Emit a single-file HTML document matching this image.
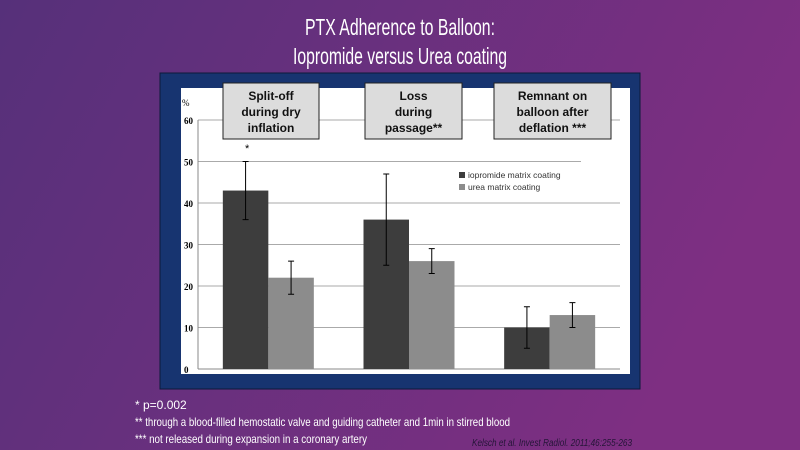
<!DOCTYPE html>
<html><head><meta charset="utf-8"><style>
body{margin:0;width:800px;height:450px;overflow:hidden}
svg{display:block;font-family:"Liberation Sans",sans-serif}
</style></head><body>
<svg width="800" height="450" viewBox="0 0 800 450">
<defs><linearGradient id="bg" x1="0" y1="0" x2="1" y2="0.3">
<stop offset="0" stop-color="#56307a"/><stop offset="1" stop-color="#7e2f82"/></linearGradient></defs>
<rect width="800" height="450" fill="url(#bg)"/>
<text x="400" y="35" text-anchor="middle" fill="#fff" font-size="23" textLength="190" lengthAdjust="spacingAndGlyphs">PTX Adherence to Balloon:</text>
<text x="400" y="64" text-anchor="middle" fill="#fff" font-size="23" textLength="214" lengthAdjust="spacingAndGlyphs">Iopromide versus Urea coating</text>
<rect x="160" y="73" width="480" height="316" fill="#173470" stroke="#0c1a3a"/>
<rect x="181" y="88" width="449" height="286" fill="#fff"/>
<g id="chart"></g>
<text x="135" y="409" fill="#fff" font-size="12">* p=0.002</text>
<text x="135" y="426" fill="#fff" font-size="12" textLength="375" lengthAdjust="spacingAndGlyphs">** through a blood-filled hemostatic valve and guiding catheter and 1min in stirred blood</text>
<text x="135" y="443" fill="#fff" font-size="12" textLength="232" lengthAdjust="spacingAndGlyphs">***  not released during expansion in a coronary artery</text>
<text x="472" y="446" fill="#251538" font-size="10" font-style="italic" textLength="160" lengthAdjust="spacingAndGlyphs">Kelsch et al. Invest Radiol. 2011;46:255-263</text>
</svg>
<script>
const categories=["Split-off during dry inflation","Loss during passage**","Remnant on balloon after deflation ***"];
const iopromide=[43,36,10];
const iopromideLow=[36,25,5];
const iopromideHigh=[50,47,15];
const urea=[22,26,13];
const ureaLow=[18,23,10];
const ureaHigh=[26,29,16];
const yTicks=[0,10,20,30,40,50,60];
const seriesNames=["iopromide matrix coating","urea matrix coating"];
const ns="http://www.w3.org/2000/svg";
const g=document.getElementById('chart');
const x0=198,x1=620,y0=369,yTop=120;
const y=v=>y0-(v/60)*(y0-yTop);
const band=(x1-x0)/categories.length;
const cx=i=>x0+band*(i+0.5);
function mk(t,a,p){const e=document.createElementNS(ns,t);for(const k in a)e.setAttribute(k,a[k]);(p||g).appendChild(e);return e;}
yTicks.forEach(v=>{
 if(v>0){const l=mk('line',{x1:x0,x2:v===50?581:x1,y1:y(v),y2:y(v),stroke:'#aaa','stroke-width':1});
 
 }
 const t=mk('text',{x:184,y:y(v)+4,'font-size':9,'font-family':'Liberation Serif',fill:'#000','font-weight':'bold'});t.textContent=v;
 
 
});
const pc=mk('text',{x:182,y:106,'font-size':9,'font-family':'Liberation Serif',fill:'#000'});pc.textContent='%';


const ax=mk('line',{x1:x0,x2:x1,y1:y0,y2:y0,stroke:'#888'});


const ay=mk('line',{x1:x0,x2:x0,y1:y0,y2:yTop,stroke:'#888'});


const bw=45.5;
function bar(i,off,v,lo,hi,col,name){
 const bx=cx(i)+off;
 const r=mk('rect',{x:bx,y:y(v),width:bw,height:y0-y(v),fill:col});
 
 
 const m=bx+bw/2;
 const e=mk('path',{d:`M${m},${y(lo)}V${y(hi)}M${m-3},${y(lo)}H${m+3}M${m-3},${y(hi)}H${m+3}`,stroke:'#000','stroke-width':1,fill:'none'});
 
 
}
categories.forEach((c,i)=>{
 bar(i,-bw,iopromide[i],iopromideLow[i],iopromideHigh[i],'#3d3d3d','iopromide');
 bar(i,0,urea[i],ureaLow[i],ureaHigh[i],'#8c8c8c','urea');
});
const boxes=[[223,96],[365,97],[494,117]];
const lines=[["Split-off","during dry","inflation"],["Loss","during","passage**"],["Remnant on","balloon after","deflation ***"]];
categories.forEach((c,i)=>{
 const b=mk('g',{});
 
 
 mk('rect',{x:boxes[i][0],y:83,width:boxes[i][1],height:56,fill:'#dcdcdc',stroke:'#222','stroke-width':1},b);
 lines[i].forEach((s,k)=>{const t=mk('text',{x:boxes[i][0]+boxes[i][1]/2,y:100+k*16,'text-anchor':'middle','font-size':12,'font-weight':'bold',fill:'#111'},b);t.textContent=s;});
});
const st=mk('text',{x:245,y:152,'font-size':11,fill:'#000'});st.textContent='*';


[['#3d3d3d',0],['#8c8c8c',1]].forEach(([col,k])=>{
 const lg=mk('g',{});
 
 
 mk('rect',{x:459,y:172+k*12,width:6,height:6,fill:col},lg);
 const t=mk('text',{x:468,y:178+k*12,'font-size':8.5,fill:'#333'},lg);t.textContent=seriesNames[k];
});
</script>
</body></html>
